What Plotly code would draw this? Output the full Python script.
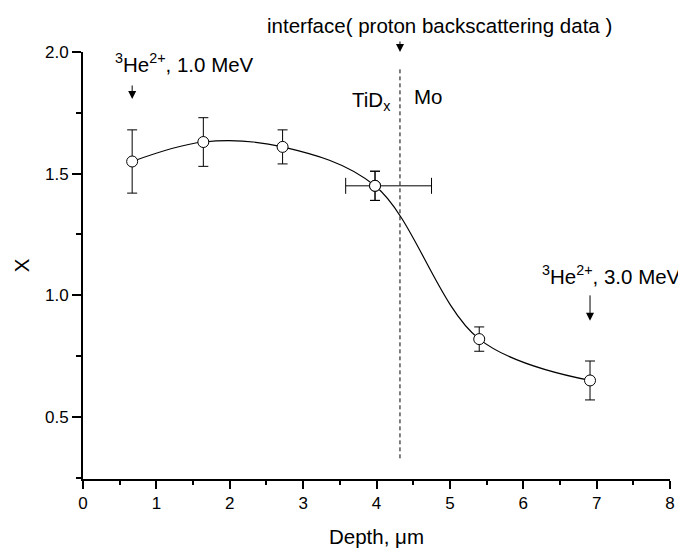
import plotly.graph_objects as go

# Data
depth = [0.67, 1.64, 2.72, 3.98, 5.40, 6.91]
x_ratio = [1.55, 1.63, 1.61, 1.45, 0.82, 0.65]
x_err = [0.13, 0.10, 0.07, 0.06, 0.05, 0.08]

# horizontal error bar of the 4th point (asymmetric)
depth_err_idx = 3
depth_err_plus = 0.77
depth_err_minus = 0.40

interface_depth = 4.32
x_ticks = [0, 1, 2, 3, 4, 5, 6, 7, 8]
y_ticks = [0.5, 1.0, 1.5, 2.0]

FONT = "Liberation Sans, Arial, sans-serif"
ANN = 20.5

fig = go.Figure()

# smooth curve through the points
fig.add_trace(go.Scatter(
    x=depth, y=x_ratio, mode="lines",
    line=dict(color="black", width=1.2, shape="spline", smoothing=1.0),
    hoverinfo="skip", showlegend=False,
))

# points with vertical error bars
fig.add_trace(go.Scatter(
    x=depth, y=x_ratio, mode="markers",
    marker=dict(symbol="circle", size=11, color="white",
                line=dict(color="black", width=1)),
    error_y=dict(type="data", array=x_err, visible=True,
                 color="black", thickness=1, width=5),
    showlegend=False,
))

# the horizontal error bar of the point at the interface
fig.add_trace(go.Scatter(
    x=[depth[depth_err_idx]], y=[x_ratio[depth_err_idx]], mode="markers",
    marker=dict(symbol="circle", size=11, color="white",
                line=dict(color="black", width=1)),
    error_x=dict(type="data", symmetric=False,
                 array=[depth_err_plus], arrayminus=[depth_err_minus],
                 visible=True, color="black", thickness=1, width=8),
    error_y=dict(type="data", array=[x_err[depth_err_idx]], visible=True,
                 color="black", thickness=1, width=5),
    showlegend=False,
))

# interface dashed line
fig.add_shape(type="line", xref="x", yref="y",
              x0=interface_depth, x1=interface_depth, y0=0.33, y1=1.94,
              line=dict(color="black", width=1, dash="4px,3px"))

arrow_style = dict(showarrow=True, arrowhead=2, arrowsize=1.6, arrowwidth=1,
                   arrowcolor="black", text="", ax=0, standoff=0)

annots = [
    dict(x=4.86, y=1.062, xref="x", yref="paper",
         text="interface( proton backscattering data )",
         showarrow=False, xanchor="center", yanchor="middle"),
    dict(x=interface_depth, y=2.0, xref="x", yref="y", ay=-12, **arrow_style),
    dict(x=4.22, y=0.886, xref="x", yref="paper", text="TiD<sub>x</sub>",
         showarrow=False, xanchor="right", yanchor="middle"),
    dict(x=4.48, y=0.895, xref="x", yref="paper", text="Mo",
         showarrow=False, xanchor="left", yanchor="middle"),
    dict(x=0.41, y=0.975, xref="x", yref="paper",
         text="<sup>3</sup>He<sup>2+</sup>, 1.0 MeV",
         showarrow=False, xanchor="left", yanchor="middle"),
    dict(x=depth[0], y=1.807, xref="x", yref="y", ay=-15, **arrow_style),
    dict(x=6.23, y=0.478, xref="x", yref="paper",
         text="<sup>3</sup>He<sup>2+</sup>, 3.0 MeV",
         showarrow=False, xanchor="left", yanchor="middle"),
    dict(x=depth[5], y=0.895, xref="x", yref="y", ay=-27, **arrow_style),
]
for a in annots:
    a["font"] = dict(family=FONT, size=ANN, color="black")
    fig.add_annotation(**a)

# the page body adds an 8px offset, so the figure is 8px smaller
fig.update_layout(
    width=678, height=548,
    margin=dict(l=75, r=11, t=44, b=67),
    paper_bgcolor="white", plot_bgcolor="white",
    font=dict(family=FONT, size=17, color="black"),
    xaxis=dict(
        range=[0, 8], tickvals=x_ticks, ticktext=[str(v) for v in x_ticks],
        showline=True, linecolor="black", linewidth=2,
        ticks="outside", ticklen=8, tickwidth=2, tickcolor="black",
        minor=dict(dtick=0.5, tick0=0, ticks="outside", ticklen=4, tickwidth=1.5, tickcolor="black"),
        showgrid=False, zeroline=False,
        title=dict(text="Depth, μm", font=dict(size=ANN), standoff=17),
        tickfont=dict(size=17),
    ),
    yaxis=dict(
        range=[0.245, 2.0], tickvals=y_ticks, ticktext=[f"{v:.1f}" for v in y_ticks],
        showline=True, linecolor="black", linewidth=2,
        ticks="outside", ticklen=9, tickwidth=2, tickcolor="black",
        minor=dict(dtick=0.25, tick0=0, ticks="outside", ticklen=5, tickwidth=1.5, tickcolor="black"),
        showgrid=False, zeroline=False,
        title=dict(text="X", font=dict(size=ANN), standoff=10),
        tickfont=dict(size=17),
    ),
)

fig.write_html("out.html")
